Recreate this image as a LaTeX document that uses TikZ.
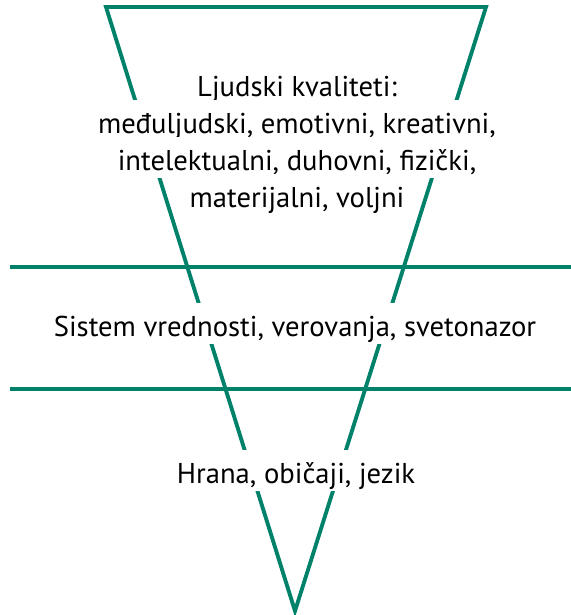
\documentclass[tikz,border=0pt]{standalone}
\usepackage{fontspec}
\setmainfont{PT Sans}
\usepackage{xcolor}
\usepackage{tikz}
\definecolor{kgreen}{HTML}{00826A}
\tikzset{
	kline/.style={draw=kgreen, line width=2.2pt},
	ktext/.style={fill=white, anchor=base, inner xsep=1.5pt, inner ysep=1pt, text height=18pt, text depth=3.5pt, font=\fontsize{16.3}{21}\selectfont}
}

\begin{document}
\begin{tikzpicture}[x=0.02cm, y=-0.02cm]
	\useasboundingbox (0, 0) rectangle (571, 615);
	% Corners and line ends:
	\coordinate (TL) at (106, 7);
	\coordinate (TR) at (486, 7);
	\coordinate (Apex) at (295, 611);
	\coordinate (L1a) at (10, 267);
	\coordinate (L1b) at (571, 267);
	\coordinate (L2a) at (10, 389);
	\coordinate (L2b) at (571, 389);
	\draw[kline, line join=miter] (TL) -- (TR) -- (Apex) -- cycle;
	\draw[kline] (L1a) -- (L1b);
	\draw[kline] (L2a) -- (L2b);
	% Texts:
	\node[ktext] (Top1) at (297, 96) {Ljudski kvaliteti:};
	\node[ktext] (Top2) at (297, 133) {međuljudski, emotivni, kreativni,};
	\node[ktext] (Top3) at (297, 170) {intelektualni, duhovni, fizički,};
	\node[ktext] (Top4) at (297, 207) {materijalni, voljni};
	\node[ktext] (Mid) at (295, 336) {Sistem vrednosti, verovanja, svetonazor};
	\node[ktext] (Low) at (296, 483) {Hrana, običaji, jezik};
\end{tikzpicture}
\end{document}
